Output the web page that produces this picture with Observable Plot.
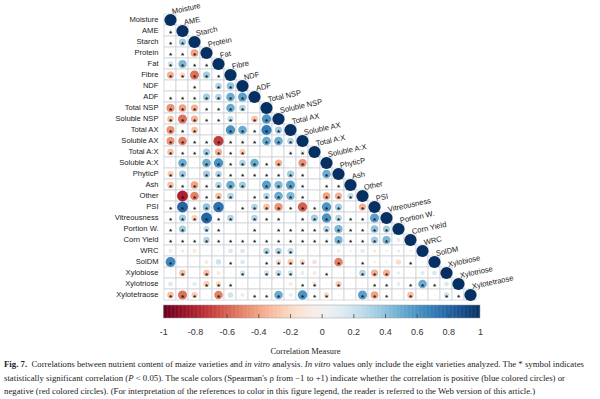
<!DOCTYPE html>
<html><head><meta charset="utf-8">
<script src="https://cdn.jsdelivr.net/npm/d3@7"></script>
<script src="https://cdn.jsdelivr.net/npm/@observablehq/plot@0.6"></script>
<style>
body{margin:0;background:#fff;width:600px;height:399px;overflow:hidden}
svg{display:block}
#cap{width:596px;white-space:nowrap;font-family:"Liberation Serif","Times New Roman",serif;font-size:8.75px;line-height:13.6px;padding-left:4px;color:#222}
</style></head><body>
<div id="chart"></div><div id="bar"></div>
<div id="cap"><b>Fig. 7.</b>&nbsp; Correlations between nutrient content of maize varieties and <i>in vitro</i> analysis. <i>In vitro</i> values only include the eight varieties analyzed. The * symbol indicates<br>statistically significant correlation (<i>P</i> &lt; 0.05). The scale colors (Spearman's ρ from −1 to +1) indicate whether the correlation is positive (blue colored circles) or<br>negative (red colored circles). (For interpretation of the references to color in this figure legend, the reader is referred to the Web version of this article.)</div>
<script>
const vars = ["Moisture","AME","Starch","Protein","Fat","Fibre","NDF","ADF","Total NSP","Soluble NSP","Total AX","Soluble AX","Total A:X","Soluble A:X","PhyticP","Ash","Other","PSI","Vitreousness","Portion W.","Corn Yield","WRC","SolDM","Xylobiose","Xylotriose","Xylotetraose"];

const corrRows = [
  [],
  [0.08],
  [0.05,0.35],
  [-0.05,0.05,-0.4],
  [0.2,0.45,0.05,0.05],
  [-0.35,-0.2,-0.55,0.35,0.05],
  [0.02,0.02,0.05,0.02,0.3,0.4],
  [0.05,0.05,0.05,0.35,0.3,0.5,0.55],
  [-0.45,-0.4,-0.35,0.05,0.05,0.5,0.3,0.02],
  [-0.3,-0.55,-0.35,0.05,0.05,0.25,0.02,-0.3,0.6],
  [-0.45,0.05,-0.3,0.02,0.02,0.6,0.5,0.05,0.7,0.35],
  [-0.45,-0.5,0.05,0.05,-0.7,0.05,0.1,0.05,0.5,0.5,0.3],
  [-0.3,0.05,0.05,0.35,-0.35,0.05,-0.25,0.02,0.02,0.02,0.1,0.15],
  [0.02,0.5,0.02,0.5,0.6,0.05,0.3,0.5,0.05,-0.35,0.02,-0.45,0.02],
  [-0.25,0.35,0.02,0.35,0.3,0.05,0.05,0.05,0.05,0.05,0.35,0.05,0.02,0.5],
  [-0.3,0.05,-0.4,0.05,0.3,0.5,0.35,0.02,0.55,0.45,0.55,0.05,0.02,0.05,0.05],
  [0.02,-0.8,-0.5,0.05,-0.3,0.3,0.02,0.05,0.3,0.5,0.45,0.05,0.02,-0.4,-0.35,0.25],
  [0.05,0.8,0.05,0.4,0.75,0.02,0.05,0.3,-0.3,-0.45,0.05,-0.6,0.05,0.6,0.35,0.02,-0.35],
  [0.05,0.35,-0.25,0.8,0.05,0.3,0.02,0.3,0.05,0.05,0.02,0.05,0.35,0.6,0.3,0.05,0.05,0.55],
  [0.05,0.35,0.02,0.25,0.05,0.02,0.02,0.05,0.02,0.05,0.05,0.05,0.05,0.3,0.45,0.05,0.05,0.4,0.35],
  [0.05,0.05,0.05,0.3,0.05,0.05,0.05,0.05,0.05,0.05,0.05,0.05,0.05,0.1,0.45,0.05,0.05,0.35,0.45,0.1],
  [-0.1,-0.08,-0.1,0.02,0.02,0.15,0.15,0.02,0.3,0.3,0.25,0.02,0.02,0.02,0.08,0.05,0.12,-0.08,0.05,0.08,0.05],
  [0.65,0.02,0.02,-0.1,0.2,0.05,0.15,0.02,0.05,-0.2,-0.25,-0.2,-0.15,0.02,-0.5,0.02,0.05,0.05,0.05,-0.18,0.05,0.02],
  [0.02,-0.3,0.02,-0.3,-0.1,0.02,0.2,0.02,0.2,0.25,0.2,0.1,-0.1,0.05,0.02,0.02,0.3,-0.35,-0.35,0.08,0.02,0.12,0.15],
  [0.15,0.02,0.12,-0.25,-0.2,0.1,0.02,0.02,0.02,0.02,-0.1,0.05,-0.15,0.02,-0.25,0.02,0.02,0.05,0.05,0.1,0.05,0.5,0.05,0.15],
  [-0.3,-0.55,-0.25,0.02,-0.5,0.2,-0.1,0.05,0.05,0.5,0.1,0.6,0.05,-0.2,0.02,0.02,0.55,-0.4,0.05,0.02,-0.3,0.02,0.02,0.2,0.05]
];

const sigRows = [
  "",
  "1",
  "11",
  "111",
  "1111",
  "11111",
  "001011",
  "1111111",
  "11111110",
  "111111011",
  "1110011111",
  "11111111111",
  "111111100011",
  "0101111111010",
  "11011111111101",
  "111111101111011",
  "0111110111110111",
  "11111011111111101",
  "111111011101111111",
  "1101100101111111111",
  "11111111111111111110",
  "000000001110000000000",
  "1000010011110010100010",
  "01010010111001001110000",
  "000111000001101001101110",
  "1110100111011100111010011"
];

const legendTicks = [-1,-0.8,-0.6,-0.4,-0.2,0,0.2,0.4,0.6,0.8,1];
const legendTitle = "Correlation Measure";

const cells = [];
vars.forEach((rv, r) => {
  for (let c = 0; c <= r; c++) {
    const diag = c === r;
    cells.push({row: rv, col: vars[c], v: diag ? 1 : corrRows[r][c], s: diag ? false : sigRows[r][c] === "1"});
  }
});

const sans = "'Liberation Sans', Arial, sans-serif";
const colorScale = {type: "linear", scheme: "RdBu", domain: [-1, 1]};

const chart = Plot.plot({
  width: 600, height: 302,
  marginTop: 0, marginBottom: 0, marginLeft: 0, marginRight: 0,
  style: {fontFamily: sans, background: "white"},
  x: {type: "band", domain: vars, range: [164, 476.2], padding: 0, axis: null},
  y: {type: "band", domain: vars, range: [12.4, 301], padding: 0, axis: null},
  r: {type: "sqrt", domain: [0, 1], range: [0, 6.1]},
  color: colorScale,
  marks: [
    Plot.cell(cells, {x: "col", y: "row", fill: "white", stroke: "#cfd3d8", strokeWidth: 0.8}),
    Plot.dot(cells, {x: "col", y: "row", r: d => Math.abs(d.v), fill: "v", stroke: "none"}),
    Plot.text(cells.filter(d => d.s), {x: "col", y: "row", text: () => "*", fontSize: 8, fill: "#111", dy: 2, fontWeight: "bold"}),
    Plot.text(vars, {x: () => vars[0], y: d => d, text: d => d, textAnchor: "end", dx: -12, fontSize: 7.6, fill: "#222"}),
    Plot.text(vars, {x: d => d, y: d => d, text: d => d, textAnchor: "start", lineAnchor: "bottom", rotate: -12, dx: 2, dy: -6, fontSize: 7.6, fill: "#222"})
  ]
});
document.getElementById("chart").append(chart);

const step = 0.005;
const stops = d3.range(-1, 1, step);
const bar = Plot.plot({
  width: 600, height: 56,
  marginTop: 0, marginBottom: 0, marginLeft: 0, marginRight: 0,
  style: {fontFamily: sans, background: "white"},
  x: {domain: [-1, 1], range: [163.3, 480], axis: null},
  y: {domain: [0, 1], range: [16, 3], axis: null},
  color: colorScale,
  marks: [
    Plot.rect(stops, {x1: d => d, x2: d => Math.min(1, d + step * 1.6), y1: 0, y2: 1, fill: d => d + step / 2}),
    Plot.rect([0], {x1: -1, x2: 1, y1: 0, y2: 1, fill: "none", stroke: "#999", strokeWidth: 0.5}),
    Plot.ruleX(legendTicks.slice(1, -1), {x: d => d, y1: 0, y2: 0.3, stroke: "#444", strokeWidth: 0.8}),
    Plot.text(legendTicks, {x: d => d, y: 0, dy: 13.7, text: d => String(d).replace("−", "-"), fontSize: 9, fill: "#333"}),
    Plot.text([legendTitle], {frameAnchor: "top-left", dx: 305, dy: 45, text: d => d, textAnchor: "middle", fontSize: 8.5, fontFamily: "'Liberation Serif', 'Times New Roman', serif", fill: "#222"})
  ]
});
document.getElementById("bar").append(bar);
</script>
</body></html>
